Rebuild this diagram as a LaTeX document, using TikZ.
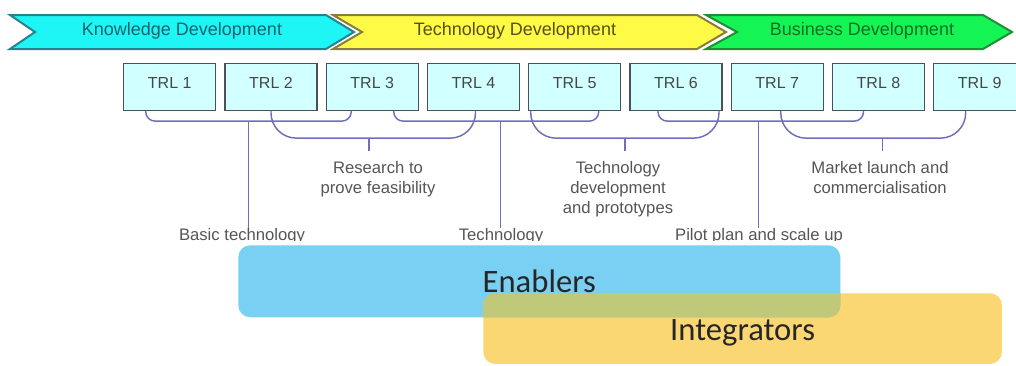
\documentclass[tikz,border=0pt]{standalone}
\usepackage{fontspec}
\setmainfont{Liberation Sans}
\newfontfamily\calibfont{Carlito}
\usetikzlibrary{calc}

\definecolor{kfill}{RGB}{30,245,245}
\definecolor{kdraw}{RGB}{40,130,140}
\definecolor{ktext}{RGB}{20,100,110}
\definecolor{tfill}{RGB}{255,250,70}
\definecolor{tdraw}{RGB}{135,125,60}
\definecolor{ttext}{RGB}{85,80,25}
\definecolor{bfill}{RGB}{20,245,85}
\definecolor{bdraw}{RGB}{35,140,55}
\definecolor{btext}{RGB}{15,110,35}
\definecolor{trlfill}{RGB}{210,255,255}
\definecolor{trldraw}{RGB}{75,80,85}
\definecolor{brk}{RGB}{110,110,190}
\definecolor{lbl}{RGB}{85,85,85}
\definecolor{enabl}{RGB}{122,208,242}
\definecolor{integ}{RGB}{251,215,115}
\definecolor{ovl}{RGB}{192,200,122}

\begin{document}
\begin{tikzpicture}[x=0.75pt,y=-0.75pt,
  chev/.style={line width=1.5pt, line join=miter},
  chevtext/.style={font=\fontsize{13.5}{16}\selectfont, inner sep=0pt},
  trl/.style={draw=trldraw, fill=trlfill, line width=1.1pt,
    minimum width=69pt, minimum height=35pt, inner sep=0pt,
    anchor=north west, text=black!72,
    font=\fontsize{12}{14}\selectfont, text height=9pt, text depth=7pt},
  brace/.style={draw=brk, line width=1.1pt},
  near/.style={brace, rounded corners=7pt},
  far/.style={brace, rounded corners=19pt},
  lab/.style={font=\fontsize{12.5}{15}\selectfont, text=lbl, align=center,
    inner sep=0pt, anchor=north},
  stagebox/.style={rounded corners=9pt, inner sep=0pt, anchor=north west,
    font=\calibfont\fontsize{24.5}{28}\selectfont, text=black!85}
]
\useasboundingbox (0,0) rectangle (1016,365);

% phase chevrons
\filldraw[chev, fill=kfill, draw=kdraw]
  (10,15) -- (326,15) -- (354,32) -- (326,49) -- (10,49) -- (35,32) -- cycle;
\filldraw[chev, fill=tfill, draw=tdraw]
  (333,15) -- (697,15) -- (726,32) -- (697,49) -- (333,49) -- (362,32) -- cycle;
\filldraw[chev, fill=bfill, draw=bdraw]
  (706,15) -- (983,15) -- (1012,32) -- (983,49) -- (706,49) -- (737,32) -- cycle;
\node[chevtext, text=ktext] (kd) at (182,31) {Knowledge Development};
\node[chevtext, text=ttext] (td) at (515,31) {Technology Development};
\node[chevtext, text=btext] (bd) at (862,31) {Business Development};

% readiness levels
\foreach \i in {1,...,9}
  \node[trl] (t\i) at ({123+101.25*(\i-1)},63) {TRL \i};

% short brackets (one level below the boxes)
\coordinate (a1) at ($(t1.south)+(-24,10)$);
\coordinate (b1) at ($(t3.south)+(-21,10)$);
\draw[near] ($(t1.south)+(-24,0)$) -- (a1) -- (b1) -- ($(t3.south)+(-21,0)$);
\coordinate (a3) at ($(t3.south)+(21.5,10)$);
\coordinate (b3) at ($(t5.south)+(24,10)$);
\draw[near] ($(t3.south)+(21.5,0)$) -- (a3) -- (b3) -- ($(t5.south)+(24,0)$);
\coordinate (a5) at ($(t6.south)+(-18,10)$);
\coordinate (b5) at ($(t8.south)+(-15,10)$);
\draw[near] ($(t6.south)+(-18,0)$) -- (a5) -- (b5) -- ($(t8.south)+(-15,0)$);

% long brackets
\coordinate (a2) at ($(t2.south)+(0,27)$);
\coordinate (b2) at ($(t4.south)+(2,27)$);
\draw[far] (t2.south) -- (a2) -- (b2) -- ($(t4.south)+(2,0)$);
\coordinate (a4) at ($(t5.south)+(-44,27)$);
\coordinate (b4) at ($(t6.south)+(43,27)$);
\draw[far] ($(t5.south)+(-44,0)$) -- (a4) -- (b4) -- ($(t6.south)+(43,0)$);
\coordinate (a6) at ($(t7.south)+(3.5,27)$);
\coordinate (b6) at ($(t9.south)+(-14,27)$);
\draw[far] ($(t7.south)+(3.5,0)$) -- (a6) -- (b6) -- ($(t9.south)+(-14,0)$);

% labels of the long brackets
\node[lab] (l2) at (378,161) {Research to\\prove feasibility};
\node[lab] (l4) at (618,161) {Technology\\development\\and prototypes};
\node[lab] (l6) at (880,161) {Market launch and\\commercialisation};
\coordinate (s2) at ($(a2)!0.48!(b2)$);
\coordinate (s4) at ($(a4)!0.5!(b4)$);
\coordinate (s6) at ($(a6)!0.55!(b6)$);
\draw[brace] (s2) -- ++(0,13);
\draw[brace] (s4) -- ++(0,13);
\draw[brace] (s6) -- ++(0,13);

% labels of the short brackets, cut off along their lower edge
\begin{scope}
  \clip (0,0) rectangle (1016,240);
  \node[lab] (l1) at (242,228) {Basic technology};
  \node[lab] (l3) at (501,228) {Technology};
  \node[lab] (l5) at (759,228) {Pilot plan and scale up};
\end{scope}
\coordinate (s1) at ($(a1)!0.5!(b1)$);
\coordinate (s3) at ($(a3)!0.52!(b3)$);
\coordinate (s5) at ($(a5)!0.49!(b5)$);
\draw[brace] (s1) -- (s1 |- l1.north);
\draw[brace] (s3) -- (s3 |- l3.north);
\draw[brace] (s5) -- (s5 |- l5.north);

% actor groups
\node[stagebox, fill=enabl, minimum width=451.5pt, minimum height=54pt] (en) at (238,245) {};
\node[stagebox, fill=integ, minimum width=389pt, minimum height=53pt] (in) at (483,293) {};
\begin{scope}
  \clip[rounded corners=9pt] (en.north west) rectangle (en.south east);
  \fill[ovl, rounded corners=9pt] (in.north west) rectangle (in.south east);
\end{scope}
\node[stagebox, anchor=center] (ent) at (en.center) {Enablers};
\node[stagebox, anchor=center] (int) at ($(in.center)+(0,4)$) {Integrators};
\end{tikzpicture}
\end{document}
